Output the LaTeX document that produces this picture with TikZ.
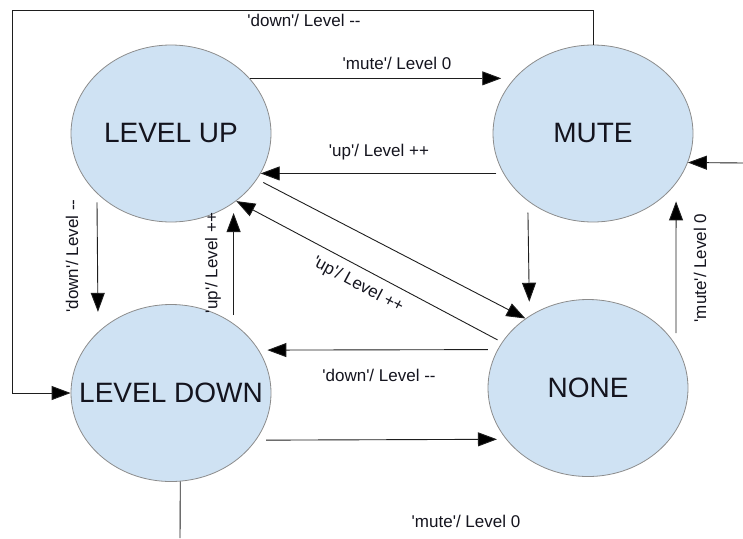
\documentclass[tikz,border=0pt]{standalone}
\usepackage{fontspec}
\setmainfont{Liberation Sans}[Ligatures=TeXOff]
\usetikzlibrary{shapes.geometric,arrows.meta,calc}

\definecolor{statefill}{RGB}{207,226,243}
\definecolor{stateline}{RGB}{140,140,140}
\definecolor{wire}{RGB}{30,30,30}
\definecolor{ink}{RGB}{20,20,30}

\tikzset{
  state/.style={ellipse, draw=stateline, line width=0.8pt, fill=statefill,
    minimum width=200pt, minimum height=177pt, inner sep=0pt,
    font=\fontsize{28}{32}\selectfont, text=ink},
  conn/.style={draw=wire, line width=0.9pt},
  arr/.style={conn, -{Triangle[length=19pt,width=14pt,fill=black]}},
  lbl/.style={inner sep=0pt, font=\fontsize{17}{20}\selectfont, text=ink},
}
% state name that does not widen its ellipse
\newcommand{\statename}[1]{\makebox[0pt]{#1}}

\begin{document}
\begin{tikzpicture}[x=1pt, y=-1pt]
\useasboundingbox (0,0) rectangle (743,538);

% states
\node[state] (up)   at (171,133.5) {\statename{LEVEL UP}};
\node[state] (mute) at (593,133.5) {\statename{MUTE}};
\node[state] (down) at (171,393)   {\statename{LEVEL DOWN}};
\node[state] (none) at (588,388)   {\statename{NONE}};

% free ends and corner of the long loop
\coordinate (loopcorner) at (12,10);
\coordinate (ext) at (743,163);
\coordinate (exit) at (180,538);

% transitions
\draw[arr, shorten >=13pt] (up.35) -- (mute.145);
\draw[arr, shorten <=7pt] (mute.204.2) -- (up.-24.2);
\draw[arr] (mute.north) |- (loopcorner) |- (down.west);
\draw[arr, shorten <=9pt, shorten >=20pt] (up.219.6) -- (down.140.2);
\draw[arr, shorten <=8.5pt, shorten >=10pt] (down.48) -- (up.312.1);
\draw[arr, shorten <=7pt] (up.-28.3) -- (none.132.5);
\draw[arr, shorten <=5pt] (none.152.2) -- (up.-46.1);
\draw[arr, shorten <=11.5pt, shorten >=14pt] (mute.226.7) -- (none.129.4);
\draw[arr, shorten <=12pt, shorten >=18pt] (none.26.8) -- (mute.-31.7);
\draw[arr] (ext) -- (mute.-17.4);
\draw[arr, shorten <=9.6pt, shorten >=8.4pt] (none.157.2) -- (down.26.1);
\draw[arr, shorten <=10pt, shorten >=9pt] (down.-29) -- (none.212.6);
\draw[conn] (down.-84.2) -- (exit);

% transition labels
\node[lbl] (t1) at (304,20)  {'down'/ Level --};
\node[lbl] (t2) at (397,63)  {'mute'/ Level 0};
\node[lbl] (t3) at (379,152) {'up'/ Level ++};
\node[lbl, rotate=90] (t4) at (72,256)  {'down'/ Level --};
\node[lbl, rotate=90] (t5) at (213,263) {'up'/ Level ++};
\node[lbl, rotate=-28] (t6) at (358,285) {'up'/ Level ++};
\node[lbl, rotate=90] (t7) at (700,268) {'mute'/ Level 0};
\node[lbl] (t8) at (379,375) {'down'/ Level --};
\node[lbl] (t9) at (466,521) {'mute'/ Level 0};
\end{tikzpicture}
\end{document}
